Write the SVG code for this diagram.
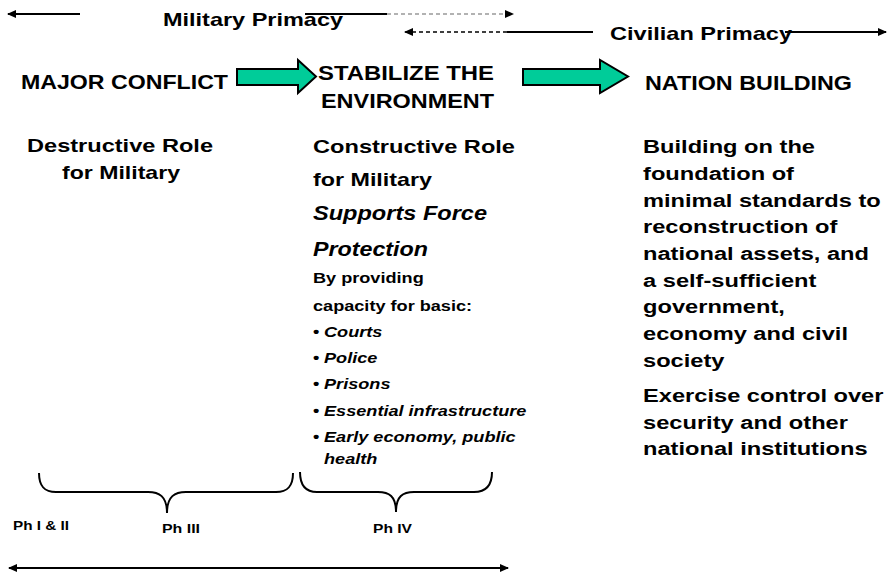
<svg xmlns="http://www.w3.org/2000/svg" width="892" height="576" viewBox="0 0 892 576">
<defs>
<marker id="ah" markerWidth="9" markerHeight="8" refX="8" refY="4" orient="auto-start-reverse" markerUnits="userSpaceOnUse">
<path d="M0,0 L9,4 L0,8 Z" fill="#000"/>
</marker>
<style>
text{font-family:"Liberation Sans",Arial,sans-serif;font-weight:bold;fill:#000}
.t{font-size:19px}
.h{font-size:21px}
.b{font-size:19px}
.i{font-style:italic}
.s{font-size:14.5px}
.p{font-size:13px}
.ln{stroke:#000;stroke-width:2;fill:none}
.arr{fill:#00CC99;stroke:#000;stroke-width:2}
</style>
</defs>
<rect width="892" height="576" fill="#fff"/>
<g id="connectors">
<line class="ln" x1="80" y1="14" x2="8" y2="14" marker-end="url(#ah)"/>
<line class="ln" x1="305" y1="14" x2="387" y2="14"/>
<line x1="387" y1="14" x2="513" y2="14" stroke="#999" stroke-width="1.5" stroke-dasharray="4,3" marker-end="url(#ah)"/>
<line x1="507" y1="32" x2="405" y2="32" stroke="#000" stroke-width="1.5" stroke-dasharray="4,3" marker-end="url(#ah)"/>
<line class="ln" x1="507" y1="32" x2="593" y2="32"/>
<line class="ln" x1="785" y1="32" x2="886" y2="32" marker-end="url(#ah)"/>
<line class="ln" x1="18" y1="568" x2="499" y2="568"/>
<line class="ln" x1="100" y1="568" x2="9" y2="568" marker-end="url(#ah)"/>
<line class="ln" x1="400" y1="568" x2="508" y2="568" marker-end="url(#ah)"/>
<path class="ln" d="M39,473 C39,486 44,492 56,492 L148,492 C159,492 167,496 167,513 C167,496 175,492 186,492 L276,492 C288,492 293,486 293,473"/>
<path class="ln" d="M300,472 C300,485 305,492 317,492 L378,492 C389,492 396,496 396,512 C396,496 403,492 414,492 L474,492 C486,492 492,485 492,472"/>
</g>
<g id="arrow1"><path class="arr" d="M237,69 L298,69 L298,60 L316,76.5 L298,93 L298,85 L237,85 Z"/></g>
<g id="arrow2"><path class="arr" d="M523,69 L600,69 L600,60 L628,76.5 L600,93 L600,85 L523,85 Z"/></g>
<g id="military-primacy"><text class="t" x="163" y="26" textLength="180" lengthAdjust="spacingAndGlyphs">Military Primacy</text></g>
<g id="civilian-primacy"><text class="t" x="610" y="40" textLength="182" lengthAdjust="spacingAndGlyphs">Civilian Primacy</text></g>
<g id="major-conflict">
<text class="h" x="21" y="89" textLength="207" lengthAdjust="spacingAndGlyphs">MAJOR CONFLICT</text>
<text class="b" x="27" y="152" textLength="186" lengthAdjust="spacingAndGlyphs">Destructive Role</text>
<text class="b" x="62" y="179" textLength="118" lengthAdjust="spacingAndGlyphs">for Military</text>
</g>
<g id="stabilize">
<text class="h" x="318" y="80" textLength="176" lengthAdjust="spacingAndGlyphs">STABILIZE THE</text>
<text class="h" x="321" y="108" textLength="173" lengthAdjust="spacingAndGlyphs">ENVIRONMENT</text>
<text class="b" x="313" y="153" textLength="202" lengthAdjust="spacingAndGlyphs">Constructive Role</text>
<text class="b" x="313" y="186" textLength="119" lengthAdjust="spacingAndGlyphs">for Military</text>
<text class="b i" x="313" y="220" style="font-size:20px" textLength="174" lengthAdjust="spacingAndGlyphs">Supports Force</text>
<text class="b i" x="313" y="256" style="font-size:20px" textLength="115" lengthAdjust="spacingAndGlyphs">Protection</text>
<g transform="matrix(1.25 0 0 1 -78.25 0)">
<text class="s" x="313" y="283">By providing</text>
<text class="s" x="313" y="311">capacity for basic:</text>
<text class="s" x="313" y="337">•</text><text class="s i" x="321.8" y="337">Courts</text>
<text class="s" x="313" y="363">•</text><text class="s i" x="321.8" y="363">Police</text>
<text class="s" x="313" y="389">•</text><text class="s i" x="321.8" y="389">Prisons</text>
<text class="s" x="313" y="416">•</text><text class="s i" x="321.8" y="416">Essential infrastructure</text>
<text class="s" x="313" y="442">•</text><text class="s i" x="321.8" y="442">Early economy, public</text>
<text class="s i" x="321.8" y="464">health</text>
</g>
</g>
<g id="nation-building">
<text class="h" x="645" y="90" textLength="207" lengthAdjust="spacingAndGlyphs">NATION BUILDING</text>
<g transform="matrix(1.245 0 0 1 -157.5 0)">
<text class="b" x="643" y="153">Building on the</text>
<text class="b" x="643" y="180">foundation of</text>
<text class="b" x="643" y="207">minimal standards to</text>
<text class="b" x="643" y="233">reconstruction of</text>
<text class="b" x="643" y="260">national assets, and</text>
<text class="b" x="643" y="287">a self-sufficient</text>
<text class="b" x="643" y="313">government,</text>
<text class="b" x="643" y="340">economy and civil</text>
<text class="b" x="643" y="367">society</text>
<text class="b" x="643" y="402">Exercise control over</text>
<text class="b" x="643" y="429">security and other</text>
<text class="b" x="643" y="455">national institutions</text>
</g>
</g>
<g id="phases">
<text class="p" x="13" y="530" textLength="56" lengthAdjust="spacingAndGlyphs">Ph I &amp; II</text>
<text class="p" x="162" y="533" textLength="38" lengthAdjust="spacingAndGlyphs">Ph III</text>
<text class="p" x="373" y="533" textLength="39" lengthAdjust="spacingAndGlyphs">Ph IV</text>
</g>
</svg>
